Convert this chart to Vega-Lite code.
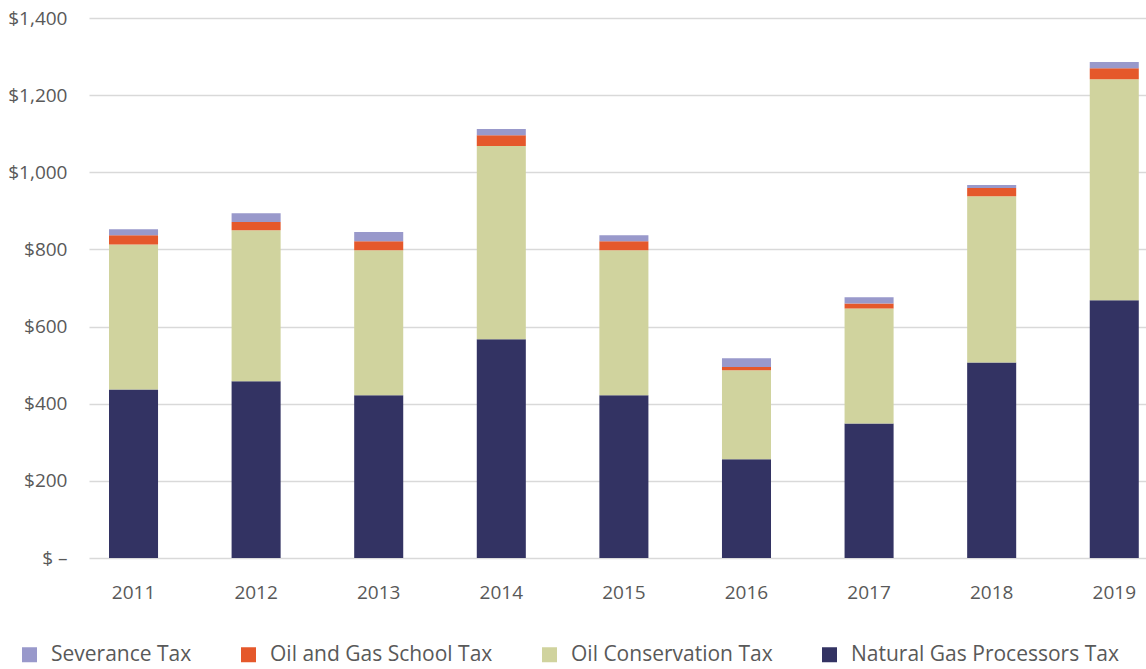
{
  "$schema": "https://vega.github.io/schema/vega-lite/v6.json",
  "autosize": "none",
  "width": 1057,
  "height": 540,
  "padding": {"left": 89, "top": 18, "right": 0, "bottom": 111},
  "background": "white",
  "config": {
    "view": {"stroke": null},
    "font": "Open Sans",
    "axis": {"labelFont": "Open Sans", "labelColor": "#595959", "labelFontSize": 19}
  },
  "data": {
    "values": [
      {"year": "2011", "series": "Natural Gas Processors Tax", "value": 437},
      {"year": "2011", "series": "Oil Conservation Tax", "value": 376},
      {"year": "2011", "series": "Oil and Gas School Tax", "value": 24},
      {"year": "2011", "series": "Severance Tax", "value": 15},
      {"year": "2012", "series": "Natural Gas Processors Tax", "value": 458},
      {"year": "2012", "series": "Oil Conservation Tax", "value": 392},
      {"year": "2012", "series": "Oil and Gas School Tax", "value": 21},
      {"year": "2012", "series": "Severance Tax", "value": 23},
      {"year": "2013", "series": "Natural Gas Processors Tax", "value": 422},
      {"year": "2013", "series": "Oil Conservation Tax", "value": 376},
      {"year": "2013", "series": "Oil and Gas School Tax", "value": 23},
      {"year": "2013", "series": "Severance Tax", "value": 24},
      {"year": "2014", "series": "Natural Gas Processors Tax", "value": 567},
      {"year": "2014", "series": "Oil Conservation Tax", "value": 501},
      {"year": "2014", "series": "Oil and Gas School Tax", "value": 28},
      {"year": "2014", "series": "Severance Tax", "value": 16},
      {"year": "2015", "series": "Natural Gas Processors Tax", "value": 422},
      {"year": "2015", "series": "Oil Conservation Tax", "value": 376},
      {"year": "2015", "series": "Oil and Gas School Tax", "value": 23},
      {"year": "2015", "series": "Severance Tax", "value": 16},
      {"year": "2016", "series": "Natural Gas Processors Tax", "value": 256},
      {"year": "2016", "series": "Oil Conservation Tax", "value": 231},
      {"year": "2016", "series": "Oil and Gas School Tax", "value": 8},
      {"year": "2016", "series": "Severance Tax", "value": 23},
      {"year": "2017", "series": "Natural Gas Processors Tax", "value": 349},
      {"year": "2017", "series": "Oil Conservation Tax", "value": 298},
      {"year": "2017", "series": "Oil and Gas School Tax", "value": 13},
      {"year": "2017", "series": "Severance Tax", "value": 16},
      {"year": "2018", "series": "Natural Gas Processors Tax", "value": 507},
      {"year": "2018", "series": "Oil Conservation Tax", "value": 431},
      {"year": "2018", "series": "Oil and Gas School Tax", "value": 21},
      {"year": "2018", "series": "Severance Tax", "value": 8},
      {"year": "2019", "series": "Natural Gas Processors Tax", "value": 668},
      {"year": "2019", "series": "Oil Conservation Tax", "value": 573},
      {"year": "2019", "series": "Oil and Gas School Tax", "value": 29},
      {"year": "2019", "series": "Severance Tax", "value": 16}
    ]
  },
  "mark": {"type": "bar"},
  "encoding": {
    "x": {
      "field": "year", "type": "ordinal",
      "scale": {"paddingInner": 0.6, "paddingOuter": 0.111, "align": 0.735},
      "axis": {"title": null, "labelAngle": 0, "domain": false, "ticks": false, "labelPadding": 25}
    },
    "y": {
      "field": "value", "type": "quantitative", "aggregate": "sum",
      "scale": {"domain": [0, 1400], "nice": false},
      "axis": {
        "title": null, "values": [0, 200, 400, 600, 800, 1000, 1200, 1400],
        "domain": false, "ticks": false, "labelPadding": 22,
        "gridColor": "#D9D9D9", "gridWidth": 1.5,
        "labelExpr": "datum.value === 0 ? '$ –' : '$' + format(datum.value, ',')"
      }
    },
    "color": {
      "field": "series", "type": "nominal",
      "scale": {
        "domain": ["Severance Tax", "Oil and Gas School Tax", "Oil Conservation Tax", "Natural Gas Processors Tax"],
        "range": ["#9999CB", "#E5582B", "#D0D39E", "#333363"]
      },
      "legend": {
        "title": null, "orient": "none", "direction": "horizontal",
        "legendX": -70, "legendY": 626,
        "symbolType": "square", "symbolSize": 225, "symbolStrokeWidth": 0,
        "labelFont": "Open Sans", "labelFontSize": 21, "labelColor": "#595959",
        "labelOffset": 11, "columnPadding": 46, "labelLimit": 400
      }
    },
    "order": {"field": "series", "sort": "ascending"}
  }
}
